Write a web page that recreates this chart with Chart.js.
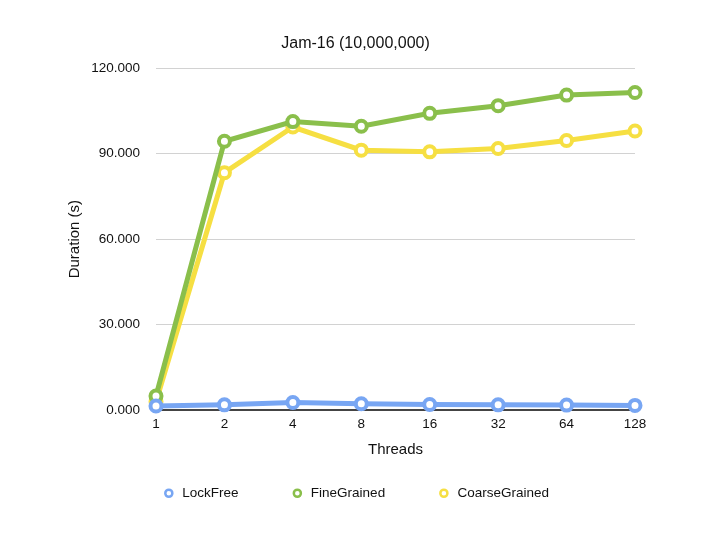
<!DOCTYPE html>
<html>
<head>
<meta charset="utf-8">
<script src="https://cdn.jsdelivr.net/npm/chart.js@4/dist/chart.umd.min.js"></script>
<style>
  html, body { margin: 0; padding: 0; background: #ffffff; }
  #wrap { width: 711px; height: 533px; }
</style>
</head>
<body>
<div id="wrap"><canvas id="c" width="711" height="533"></canvas></div>
<script>
const chartTitle = 'Jam-16 (10,000,000)';
const xTitle = 'Threads';
const yTitle = 'Duration (s)';
const threads = ['1', '2', '4', '8', '16', '32', '64', '128'];
const seriesNames = ['LockFree', 'FineGrained', 'CoarseGrained'];
const lockFree = [1.5, 1.9, 2.7, 2.3, 2.0, 1.9, 1.8, 1.7];
const fineGrained = [5.0, 94.3, 101.2, 99.6, 104.1, 106.8, 110.5, 111.4];
const coarseGrained = [3.0, 83.3, 99.3, 91.2, 90.6, 91.8, 94.6, 97.9];
const yTicks = [0, 30, 60, 90, 120];

const colors = ['#78a6f3', '#8abf4b', '#f6df42'];
const seriesValues = [lockFree, fineGrained, coarseGrained];

const FONT = '"Liberation Sans", Arial, Helvetica, sans-serif';

const datasets = seriesNames.map((name, i) => ({
  label: name,
  data: seriesValues[i],
  borderColor: colors[i],
  backgroundColor: colors[i],
  borderWidth: 5,
  tension: 0,
  pointRadius: 5.5,
  pointHoverRadius: 5.5,
  pointBorderWidth: 4,
  pointHoverBorderWidth: 4,
  pointBackgroundColor: '#ffffff',
  pointBorderColor: colors[i],
  clip: false,
  fill: false
}));

new Chart(document.getElementById('c'), {
  type: 'line',
  data: { labels: threads, datasets },
  options: {
    responsive: false,
    animation: false,
    events: [],
    layout: { padding: { left: 62, right: 62, top: 30, bottom: 23 } },
    plugins: {
      title: {
        display: true,
        text: chartTitle,
        color: '#111',
        font: { family: FONT, size: 16, weight: 'normal' },
        padding: { top: 4.4, bottom: 14.4 }
      },
      legend: {
        position: 'bottom',
        labels: {
          usePointStyle: true,
          pointStyle: 'circle',
          boxWidth: 13.5,
          boxHeight: 5,
          padding: 52,
          color: '#111',
          font: { family: FONT, size: 13.5 },
          generateLabels(chart) {
            const items = Chart.defaults.plugins.legend.labels.generateLabels(chart);
            items.forEach(it => { it.lineWidth = 2.5; it.fillStyle = '#ffffff'; });
            return items;
          }
        }
      },
      tooltip: { enabled: false }
    },
    scales: {
      x: {
        type: 'category',
        offset: false,
        grid: { display: false, drawTicks: false },
        border: { display: true, color: '#444444', width: 2 },
        ticks: { color: '#111', font: { family: FONT, size: 13.5 }, padding: 6, maxRotation: 0 },
        title: {
          display: true, text: xTitle, color: '#111',
          font: { family: FONT, size: 15 },
          padding: { top: 0, bottom: -24.25 }
        },
        afterFit(s) { s.height = 24.25; }
      },
      y: {
        type: 'linear',
        min: 0, max: 120,
        afterBuildTicks(s) { s.ticks = yTicks.map(v => ({ value: v })); },
        grid: { color: '#d2d2d2', lineWidth: 1, drawTicks: false },
        border: { display: false },
        ticks: {
          color: '#111', font: { family: FONT, size: 13.5 }, padding: 16,
          callback: v => Number(v).toFixed(3)
        },
        title: {
          display: true, text: yTitle, color: '#111',
          font: { family: FONT, size: 15 },
          padding: { top: 4, bottom: 0 }
        },
        afterFit(s) { s.width = 94; }
      },
      yR: {
        type: 'linear',
        position: 'right',
        display: true,
        grid: { display: false, drawTicks: false },
        border: { display: false },
        ticks: { display: false },
        afterFit(s) { s.width = 14; }
      }
    }
  }
});
</script>
</body>
</html>
